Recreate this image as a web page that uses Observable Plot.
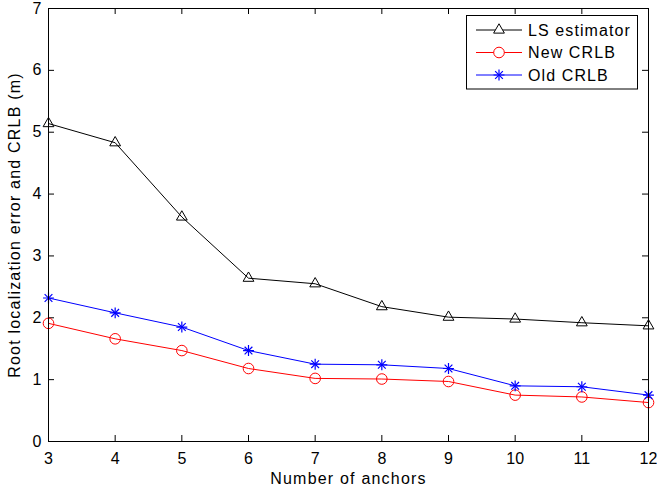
<!DOCTYPE html>
<html><head><meta charset="utf-8">
<script src="https://cdn.jsdelivr.net/npm/d3@7"></script>
<script src="https://cdn.jsdelivr.net/npm/@observablehq/plot@0.6"></script>
<style>
body{margin:0;background:#fff;}
#chart{position:relative;width:657px;height:491px;font-family:"Liberation Sans",Arial,Helvetica,sans-serif;}
#legend{position:absolute;left:466px;top:15px;}
#chart svg g[aria-label$="axis label"] text{letter-spacing:1.2px;}
</style></head><body><div id="chart"></div>
<script>
const anchors = [3, 4, 5, 6, 7, 8, 9, 10, 11, 12];
const lsEstimator = [5.14, 4.83, 3.63, 2.64, 2.55, 2.18, 2.01, 1.98, 1.92, 1.87];
const newCRLB = [1.91, 1.66, 1.47, 1.18, 1.02, 1.01, 0.97, 0.75, 0.72, 0.63];
const oldCRLB = [2.32, 2.08, 1.85, 1.47, 1.25, 1.24, 1.18, 0.90, 0.885, 0.75];
const xTicks = [3, 4, 5, 6, 7, 8, 9, 10, 11, 12];
const yTicks = [0, 1, 2, 3, 4, 5, 6, 7];
const seriesNames = ["LS estimator", "New CRLB", "Old CRLB"];
const seriesColors = ["black", "red", "blue"];
const xLabel = "Number of anchors";
const yLabel = "Root localization error and CRLB (m)";

const W = 657, H = 491, mL = 48, mR = 9, mT = 8, mB = 50;
const innerW = W - mL - mR, innerH = H - mT - mB, tk = 6;

const seriesValues = [lsEstimator, newCRLB, oldCRLB];
const rows = seriesNames.flatMap((s, i) => anchors.map((a, j) => ({series: s, x: a, y: seriesValues[i][j]})));
const bySeries = s => rows.filter(r => r.series === s);

const plot = Plot.plot({
  width: W, height: H,
  marginLeft: mL, marginRight: mR, marginTop: mT, marginBottom: mB,
  style: {fontFamily: '"Liberation Sans", Arial, sans-serif', fontSize: "16px", color: "black", background: "white"},
  x: {domain: [3, 12]},
  y: {domain: [0, 7]},
  color: {domain: seriesNames, range: seriesColors},
  marks: [
    Plot.tickX(xTicks, {x: d => d, insetTop: innerH - tk, stroke: "black"}),
    Plot.tickX(xTicks, {x: d => d, insetBottom: innerH - tk, stroke: "black"}),
    Plot.tickY(yTicks, {y: d => d, insetRight: innerW - tk, stroke: "black"}),
    Plot.tickY(yTicks, {y: d => d, insetLeft: innerW - tk, stroke: "black"}),
    Plot.axisX(xTicks, {tickSize: 0, tickPadding: 11, fontSize: 16, tickFormat: d3.format("d"), label: xLabel, labelAnchor: "center", labelArrow: "none", labelOffset: 42}),
    Plot.axisY(yTicks, {tickSize: 0, tickPadding: 7, fontSize: 16, tickFormat: d3.format("d"), label: yLabel, labelAnchor: "center", labelArrow: "none", labelOffset: 40}),
    Plot.line(rows, {x: "x", y: "y", z: "series", stroke: "series", strokeWidth: 1}),
    Plot.dot(bySeries("LS estimator"), {x: "x", y: "y", symbol: "triangle", r: 4, stroke: "black", strokeWidth: 1, fill: "none"}),
    Plot.dot(bySeries("New CRLB"), {x: "x", y: "y", symbol: "circle", r: 5.3, stroke: "red", strokeWidth: 1, fill: "none"}),
    Plot.dot(bySeries("Old CRLB"), {x: "x", y: "y", symbol: "plus", r: 3.6, stroke: "blue", strokeWidth: 1.2}),
    Plot.dot(bySeries("Old CRLB"), {x: "x", y: "y", symbol: "times", r: 3.6, stroke: "blue", strokeWidth: 1.2}),
    Plot.frame({stroke: "black", strokeWidth: 1})
  ]
});
const chart = document.getElementById("chart");
chart.appendChild(plot);

// Legend
const lg = d3.select(chart).append("svg").attr("id", "legend").attr("width", 172).attr("height", 75);
lg.append("rect").attr("x", 0.5).attr("y", 0.5).attr("width", 171).attr("height", 73.5).attr("fill", "white").attr("stroke", "black");
const symFor = [[d3.symbolTriangle], [d3.symbolCircle], [d3.symbolPlus, d3.symbolTimes]];
const rFor = [4, 5.3, 3.6];
seriesNames.forEach((s, i) => {
  const cy = 15 + i * 22.5;
  const g = lg.append("g").attr("transform", `translate(0,${cy})`);
  g.append("line").attr("x1", 10).attr("x2", 56).attr("stroke", seriesColors[i]).attr("stroke-width", 1);
  symFor[i].forEach(sym => {
    g.append("path").attr("transform", "translate(33,0)")
      .attr("d", d3.symbol(sym, Math.PI * rFor[i] * rFor[i])())
      .attr("fill", i === 2 ? "none" : "white").attr("stroke", seriesColors[i]).attr("stroke-width", i === 2 ? 1.2 : 1);
  });
  g.append("text").attr("x", 62).attr("y", 0).attr("dy", "0.35em").attr("font-size", 16).attr("letter-spacing", "1.1px")
    .attr("font-family", '"Liberation Sans", Arial, sans-serif').attr("fill", "black").text(s);
});
</script>
</body></html>
